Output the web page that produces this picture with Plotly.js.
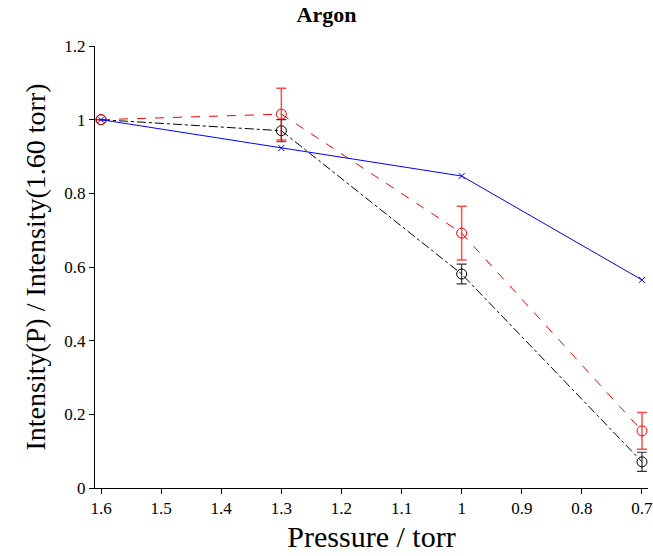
<!DOCTYPE html>
<html><head><meta charset="utf-8">
<script src="https://cdn.plot.ly/plotly-3.0.1.min.js"></script>
<style>body{margin:0;background:#fff}</style>
</head><body><div id="chart" style="width:653px;height:556px"></div>
<script>
const pressure = [1.6, 1.3, 1.0, 0.7];
const blueVals = [1.0, 0.923, 0.847, 0.565];
const redVals = [1.0, 1.015, 0.692, 0.155];
const redErr = [0, 0.07, 0.073, 0.05];
const blackVals = [1.0, 0.970, 0.581, 0.071];
const blackErr = [0, 0.03, 0.027, 0.026];
const xTicks = [1.6, 1.5, 1.4, 1.3, 1.2, 1.1, 1, 0.9, 0.8, 0.7];
const yTicks = [0, 0.2, 0.4, 0.6, 0.8, 1, 1.2];

const font = "Liberation Serif, DejaVu Serif, serif";
const traces = [
  {x: pressure, y: blackVals, mode: 'lines+markers', type: 'scatter',
   line: {color: 'black', width: 1, dash: 'dashdot'},
   marker: {symbol: 'circle-open', size: 10, color: 'black', line: {width: 1}},
   error_y: {type: 'data', array: blackErr, visible: true, color: 'rgba(0,0,0,0.8)', thickness: 1.2, width: 5}},
  {x: pressure, y: redVals, mode: 'lines+markers', type: 'scatter',
   line: {color: 'red', width: 1, dash: 'dash'},
   marker: {symbol: 'circle-open', size: 10, color: 'red', line: {width: 1}},
   error_y: {type: 'data', array: redErr, visible: true, color: 'rgba(255,0,0,0.7)', thickness: 1.5, width: 5}},
  {x: pressure, y: blueVals, mode: 'lines+markers', type: 'scatter',
   line: {color: 'blue', width: 1},
   marker: {symbol: 'x-thin-open', size: 6, color: 'blue', line: {width: 1, color: 'blue'}}}
];
const layout = {
  width: 653, height: 556,
  margin: {l: 95, r: 5, t: 46, b: 68},
  paper_bgcolor: '#fff', plot_bgcolor: '#fff',
  showlegend: false,
  title: {text: '<b>Argon</b>', font: {family: font, size: 22, color: 'black'}, x: 0.5, xanchor: 'center', y: 0.988, yanchor: 'top'},
  xaxis: {range: [1.61, 0.69], tickvals: xTicks, ticktext: xTicks.map(String),
    ticks: 'outside', ticklen: 5, tickcolor: 'black', showgrid: false, zeroline: false,
    showline: true, linecolor: 'black', linewidth: 1, automargin: false, ticklabeloverflow: 'allow',
    tickfont: {family: font, size: 17, color: 'black'},
    title: {text: 'Pressure / torr', font: {family: font, size: 30, color: 'black'}, standoff: 8}},
  yaxis: {range: [0, 1.2], tickvals: yTicks, ticktext: yTicks.map(String),
    ticks: 'outside', ticklen: 5, tickcolor: 'black', showgrid: false, zeroline: false,
    showline: true, linecolor: 'black', linewidth: 1, automargin: false,
    tickfont: {family: font, size: 17, color: 'black'},
    title: {text: 'Intensity(P) / Intensity(1.60 torr)', font: {family: font, size: 28, color: 'black'}, standoff: 10}}
};
Plotly.newPlot('chart', traces, layout, {displayModeBar: false});
</script></body></html>
